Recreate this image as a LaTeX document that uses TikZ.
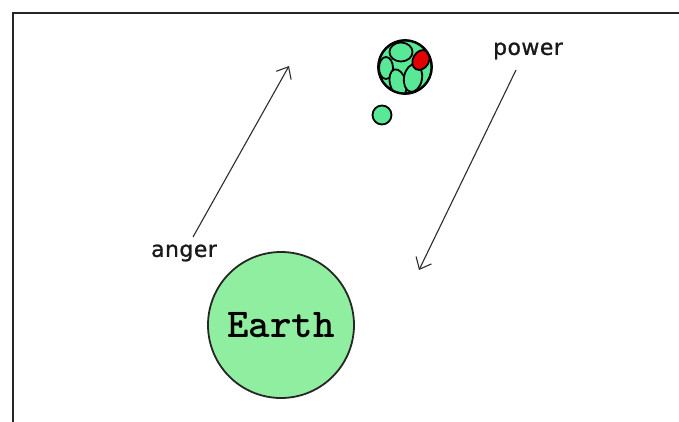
\documentclass[tikz,border=0pt]{standalone}
\usepackage{fontspec}
\usetikzlibrary{arrows.meta}
\newfontfamily\handfont[LetterSpace=2,FakeBold=1]{DejaVu Sans}
\definecolor{earthgreen}{RGB}{144,238,160}
\definecolor{mintgreen}{RGB}{88,232,150}
\definecolor{atomred}{RGB}{226,0,0}
\definecolor{inkgray}{RGB}{45,45,45}
\tikzset{
  frameline/.style={line width=2pt, draw=black!85},
  planet/.style={circle, draw=black!85, line width=1.8pt, fill=earthgreen, inner sep=0pt},
  blob/.style={draw=black, line width=1.8pt, fill=mintgreen},
  label/.style={font=\handfont\fontsize{22}{26}\selectfont, text=black!90, inner sep=0pt},
  force/.style={draw=inkgray, line width=1.1pt, -{Straight Barb[length=10pt,width=17pt,line width=1.1pt]}}
}
\begin{document}
\begin{tikzpicture}[x=1pt,y=-1pt]
\useasboundingbox (0,0) rectangle (679,422);
\fill[white] (0,0) rectangle (679,422);
% frame (top and left edges visible)
\coordinate (fbl) at (13,422);
\coordinate (ftl) at (13,13);
\coordinate (ftr) at (679,13);
\draw[frameline] (fbl) -- (ftl) -- (ftr);
% Earth
\node[planet, minimum size=146pt, font=\ttfamily\bfseries\fontsize{41}{44}\selectfont] (earth) at (281,325) {Earth};
% cluster
\node[blob, circle, minimum size=54pt, inner sep=0pt] (cluster) at (405,67) {};
\begin{scope}
  \clip (cluster.center) circle (26pt);
  \draw[blob] (394,96) ellipse (14pt and 8pt);
  \draw[blob] (386,68) ellipse (7pt and 11pt);
  \draw[blob] (401,52) ellipse (11.5pt and 9.5pt);
  \draw[blob, rotate around={15:(398,83)}] (398,83) ellipse (8pt and 14pt);
  \draw[blob, rotate around={-10:(413,78)}] (413,78) ellipse (9pt and 14pt);
  \draw[blob, fill=atomred, rotate around={-30:(421,60)}] (421,60) ellipse (8pt and 10.5pt);
\end{scope}
\draw[black, line width=2pt] (cluster.center) circle (26.5pt);
% small particle
\node[blob, circle, minimum size=19pt, inner sep=0pt] (particle) at (382,115) {};
% labels
\node[label] (anger) at (184,253) {anger};
\node[label] (power) at (528,51) {power};
% arrows
\coordinate (angertail) at (193,237);
\coordinate (angerhead) at (289,66);
\coordinate (powertail) at (516,70);
\coordinate (powerhead) at (419,270);
\draw[force] (angertail) -- (angerhead);
\draw[force] (powertail) -- (powerhead);
\end{tikzpicture}
\end{document}
